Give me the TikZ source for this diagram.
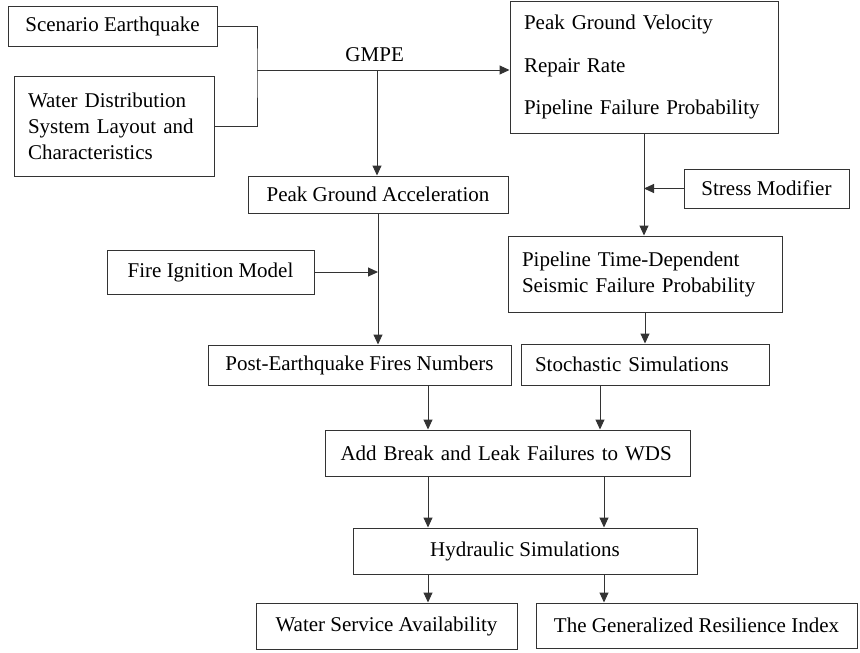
\documentclass[tikz,border=0pt]{standalone}
\usepackage{fontspec}
\setmainfont{Liberation Serif}
\usetikzlibrary{arrows.meta, positioning}

\tikzset{
  box/.style={draw=black!80, line width=1pt, inner sep=0pt, align=center,
    font=\fontsize{21}{26}\selectfont},
  lbox/.style={box, align=left, inner xsep=14pt},
  link/.style={draw=black!80, line width=1pt},
  arr/.style={link, -{Triangle[length=10pt,width=9pt]}},
}

\begin{document}
\begin{tikzpicture}[x=1pt, y=-1pt]
  \useasboundingbox (0,0) rectangle (860,653);
  % Inputs
  \node[box, minimum width=209pt, minimum height=40pt] (quake) at (112.5,26) {Scenario Earthquake};
  \node[lbox, text width=172pt, minimum height=100pt] (wds) at (114,126)
    {Water Distribution\\System Layout and\\Characteristics};
  \node[lbox, text width=240pt, minimum height=132pt, font=\fontsize{21}{42.5}\selectfont] (pgv) at (644,67)
    {Peak Ground Velocity\\Repair Rate\\Pipeline Failure Probability};
  \node[box, minimum width=260pt, minimum height=37pt] (pga) at (378,194.5) {Peak Ground Acceleration};
  \node[box, minimum width=165pt, minimum height=39pt] (stress) at (766.5,188.5) {Stress Modifier};
  \node[box, minimum width=207pt, minimum height=44pt] (fire) at (210.5,272) {Fire Ignition Model};
  \node[lbox, text width=246pt, minimum height=76pt] (ptd) at (645,274)
    {Pipeline Time-Dependent\\Seismic Failure Probability};
  % Simulations
  \node[box, minimum width=303pt, minimum height=40pt] (fires) at (359.5,365) {Post-Earthquake Fires Numbers};
  \node[lbox, text width=220pt, minimum height=41pt] (stoch) at (645,364.5) {Stochastic Simulations};
  \node[lbox, text width=335pt, inner xsep=15pt, minimum height=46pt] (addfail) at (508,453)
    {Add Break and Leak Failures to WDS};
  \node[box, minimum width=344pt, minimum height=46pt] (hydr) at (525,551) {Hydraulic Simulations};
  % Outputs
  \node[box, minimum width=261pt, minimum height=46pt] (avail) at (386.5,626) {Water Service Availability};
  \node[box, minimum width=321pt, minimum height=45pt] (gri) at (696.5,625.5) {The Generalized Resilience Index};

  % GMPE junction
  \coordinate (j) at (257,70);
  \coordinate (k) at (377,70);
  \draw[link] (quake.east) -| (j) |- (wds.east);
  \draw[arr] (j) -- (j -| pgv.west)
    node[pos=0.466, above=8pt, inner sep=0pt, font=\fontsize{21}{26}\selectfont] (gmpe) {GMPE};
  \draw[arr] (k) -- (k |- pga.north);
  % Right branch
  \draw[arr] (pgv.south) -- (pgv.south |- ptd.north);
  \draw[arr] (stress.west) -- (stress.west -| pgv.south);
  \draw[arr] (ptd.south) -- (stoch.north);
  % Left branch
  \draw[arr] (pga.south) -- (pga.south |- fires.north);
  \draw[arr] (fire.east) -- (fire.east -| pga.south);
  % Merging
  \coordinate (lx) at (428,0);
  \coordinate (rx) at (600,0);
  \coordinate (ry) at (604,0);
  \draw[arr] (fires.south -| lx) -- (addfail.north -| lx);
  \draw[arr] (stoch.south -| rx) -- (addfail.north -| rx);
  \draw[arr] (addfail.south -| lx) -- (hydr.north -| lx);
  \draw[arr] (addfail.south -| ry) -- (hydr.north -| ry);
  \draw[arr] (hydr.south -| lx) -- (avail.north -| lx);
  \draw[arr] (hydr.south -| ry) -- (gri.north -| ry);
\end{tikzpicture}
\end{document}
